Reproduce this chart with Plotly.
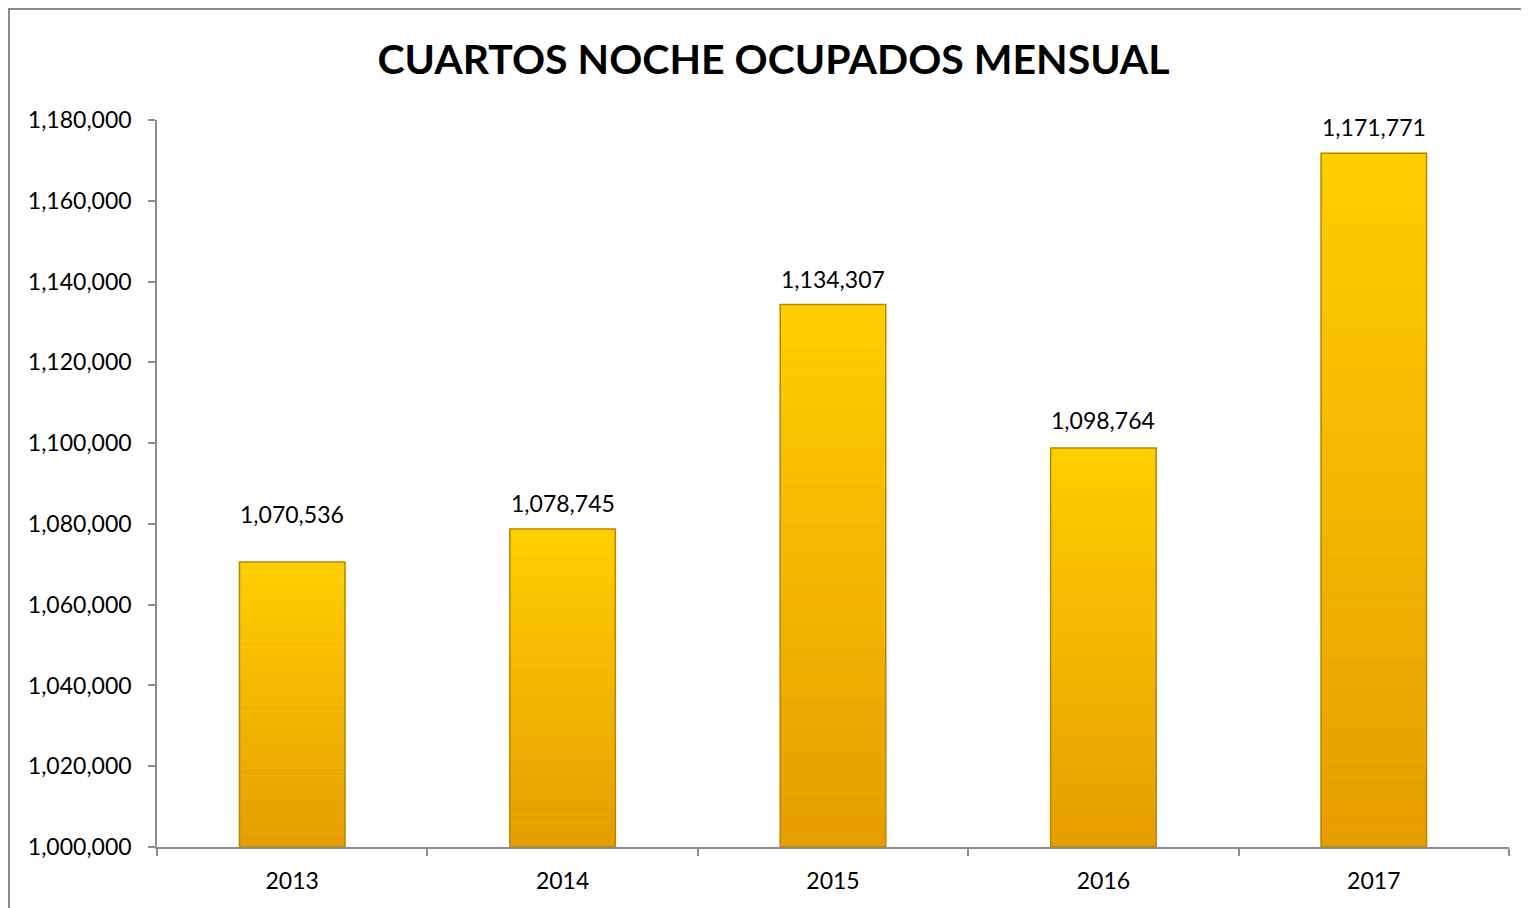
import plotly.graph_objects as go

years = ["2013", "2014", "2015", "2016", "2017"]
values = [1070536, 1078745, 1134307, 1098764, 1171771]
y_ticks = list(range(1000000, 1180001, 20000))

# label placement (pixels above bar top), as positioned in the reference
label_offsets = [48, 26, 26, 28, 26]

BASE = 1000000
N = 40
top_rgb = (255, 206, 0)
bot_rgb = (230, 158, 0)
FONT = "Lato, Open Sans, sans-serif"

ML, MR, MT, MB = 149, 28, 112, 69
PW = 1529 - ML - MR
PH = 908 - MT - MB

fig = go.Figure()
for i in range(N):
    t = i / (N - 1)
    c = tuple(round(bot_rgb[k] + (top_rgb[k] - bot_rgb[k]) * t) for k in range(3))
    col = "rgb(%d,%d,%d)" % c
    bases = [BASE + (v - BASE) * i / N for v in values]
    heights = [(v - BASE) / N for v in values]
    fig.add_trace(go.Bar(x=years, y=heights, base=bases, marker=dict(color=col, line=dict(color=col, width=0.6)),
                         width=0.39, hoverinfo="skip", showlegend=False))

# outline for bevel effect
fig.add_trace(go.Bar(x=years, y=[v - BASE for v in values], base=[BASE] * len(values),
                     marker=dict(color="rgba(0,0,0,0)", line=dict(color="#B98600", width=1.5)),
                     width=0.39, showlegend=False, hoverinfo="skip"))

for idx, (v, off) in enumerate(zip(values, label_offsets)):
    fig.add_annotation(x=idx, y=v, text=f"{v:,}", showarrow=False, yanchor="middle", yshift=off,
                       font=dict(family=FONT, size=23, color="black"))

fig.update_layout(
    barmode="overlay",
    width=1529, height=908,
    paper_bgcolor="white", plot_bgcolor="white",
    margin=dict(l=ML, r=MR, t=MT, b=MB, autoexpand=False),
    title=dict(text="<b>CUARTOS NOCHE OCUPADOS MENSUAL</b>", x=0.5007, xanchor="center",
               y=1 - 52 / 908, yanchor="middle",
               font=dict(family=FONT, size=41, color="black")),
    font=dict(family=FONT, size=23, color="black"),
    xaxis=dict(type="category", range=[-0.5, 4.5], showline=True, linecolor="#8C8C8C", linewidth=1.5, ticks="outside",
               tickson="boundaries", ticklen=7, tickcolor="#8C8C8C", tickwidth=1.5, showgrid=False,
               ticklabelstandoff=13, tickfont=dict(size=23), tickangle=0, automargin=False),
    yaxis=dict(range=[BASE, 1180000], tickvals=y_ticks, tickformat=",", showline=True, linecolor="#8C8C8C",
               linewidth=1.5, ticks="outside", ticklen=7, tickcolor="#8C8C8C", tickwidth=1.5, showgrid=False,
               zeroline=False, ticklabelstandoff=12, tickfont=dict(size=23), automargin=False),
    shapes=[dict(type="rect", xref="paper", yref="paper", x0=-(ML - 1) / PW, x1=1.1, y0=-0.3,
                 y1=(PH + MT - 1) / PH, line=dict(color="#8C8C8C", width=2), fillcolor="rgba(0,0,0,0)", layer="below")],
)

fig.write_html("out.html")
